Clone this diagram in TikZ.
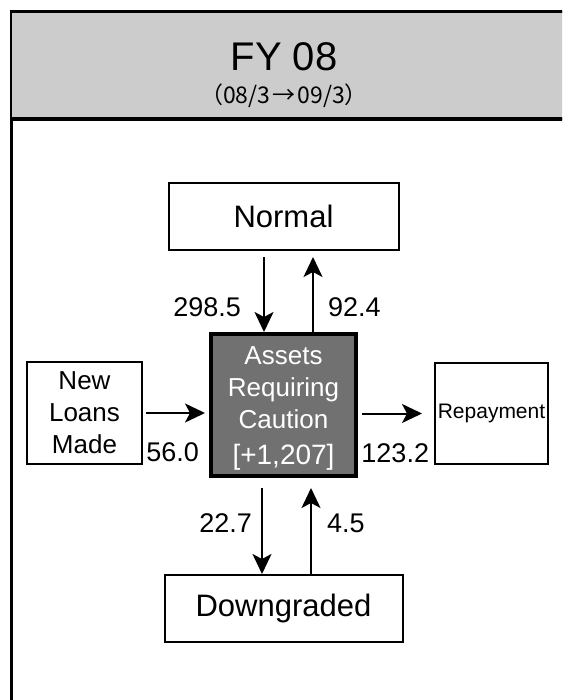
\documentclass[tikz,border=0pt]{standalone}
\usepackage{fontspec}
\setmainfont{Liberation Sans}
\newfontfamily\jpfont{Noto Sans CJK JP}
\usetikzlibrary{arrows.meta,positioning}
\definecolor{headgray}{HTML}{CCCCCC}
\definecolor{cautiongray}{HTML}{717171}
\tikzset{%
	block/.style   = {draw, rectangle, line width=2pt, align=center, inner sep=0pt, font=\fontsize{26}{32}\selectfont},
	caution/.style = {block, line width=4pt, fill=cautiongray, text=white}, % centre box
	amount/.style  = {inner sep=0pt, font=\fontsize{27}{32}\selectfont},
	flow/.style    = {line width=2pt, -{Stealth[length=20pt,width=19pt,inset=5pt]}},
}
\begin{document}
\begin{tikzpicture}[x=1pt,y=1pt]
	\useasboundingbox (0,0) rectangle (562,-700);
	\clip (0,0) rectangle (562,-700);
	\draw[line width=3pt] (11,-12) rectangle (620,-760);
	\draw[line width=2.5pt, fill=headgray] (11,-12) rectangle (620,-119);
	\draw[line width=4pt] (11,-119) -- (620,-119);
	\node[font=\fontsize{40}{44}\selectfont] (fy) at (284,-57) {FY 08};
	\node[font=\jpfont\fontsize{23}{26}\selectfont] (span) at (284,-96) {（08/3\hspace{2pt}→\hspace{2pt}09/3）};
	\node[caution, minimum width=145pt, minimum height=142pt] (cac) at (283.5,-405) {\rule{0pt}{25pt}Assets\\Requiring\\Caution\\[4pt]{\fontsize{28}{32}\selectfont [+1,207]}};
	\node[block, font=\fontsize{31}{36}\selectfont, minimum width=230pt, minimum height=67pt, above=81pt of cac] (normal) {Normal};
	\node[block, minimum width=115pt, minimum height=102pt, left=66pt of cac, yshift=-8pt] (new) {New\\Loans\\Made};
	\node[block, font=\fontsize{21}{25}\selectfont, minimum width=113pt, minimum height=101pt, right=76pt of cac, yshift=-8.5pt] (rep) {Repayment};
	\node[block, font=\fontsize{31}{36}\selectfont, minimum width=238pt, minimum height=67pt, below=96pt of cac] (down) {Downgraded};
	\draw[flow, shorten <=6pt] ([xshift=-19.5pt]normal.south) -- node[amount, pos=0.7, left=22pt] {298.5} ([xshift=-19.5pt]cac.north);
	\draw[flow, shorten >=6pt] ([xshift=29.5pt]cac.north) -- node[amount, pos=0.31, right=14pt] {92.4} ([xshift=29.5pt]normal.south);
	\draw[flow, shorten <=3pt, shorten >=4pt] (new.east) -- node[amount, pos=0.45, below=29pt] {56.0} (new.east -| cac.west);
	\draw[flow, shorten <=4pt, shorten >=12pt] (rep.west -| cac.east) -- node[amount, pos=0.49, below=29pt] {123.2} (rep.west);
	\draw[flow, shorten <=10pt] ([xshift=-21.5pt]cac.south) -- node[amount, pos=0.47, left=9pt] {22.7} ([xshift=-21.5pt]down.north);
	\draw[flow, shorten >=10pt] ([xshift=27.5pt]down.north) -- node[amount, pos=0.53, right=15pt] {4.5} ([xshift=27.5pt]cac.south);
\end{tikzpicture}
\end{document}
